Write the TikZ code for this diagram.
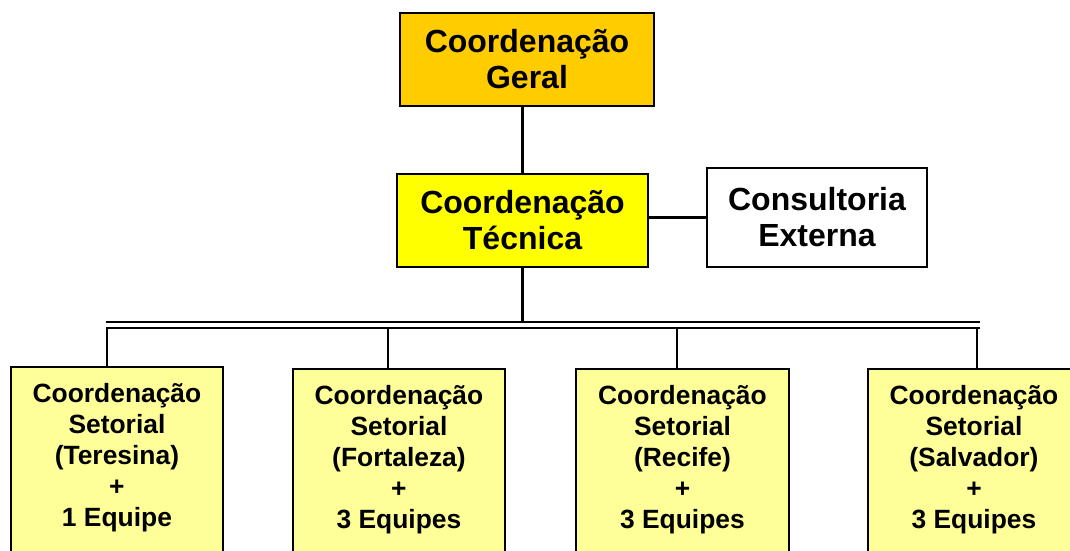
\documentclass[tikz,border=0pt]{standalone}
\usepackage{fontspec}
\setmainfont{Liberation Sans}
\definecolor{gold}{HTML}{FFCC00}
\definecolor{yel}{HTML}{FFFF00}
\definecolor{pale}{HTML}{FFFF99}
\begin{document}
\begin{tikzpicture}[x=1pt,y=-1pt,
  box/.style={draw=black, line width=1.9pt, align=center, inner sep=0pt,
    font=\bfseries\fontsize{32}{36}\selectfont},
  sbox/.style={draw=black, line width=1.9pt, inner sep=0pt, fill=pale, anchor=north west,
    font=\bfseries\fontsize{26.4}{31}\selectfont},
  conn/.style={line width=2.1pt},
  bus/.style={line width=2pt, double=white, double distance=3.4pt}]
\useasboundingbox (0,0) rectangle (1070,550);
\node[box, fill=gold, minimum width=254pt, minimum height=93pt] (ger) at (527,59.5) {Coordenação\\Geral};
\node[box, fill=yel, minimum width=251pt, minimum height=93pt] (tec) at (522.5,220.5) {Coordenação\\Técnica};
\node[box, fill=white, minimum width=220pt, minimum height=99pt] (cons) at (817,217.5) {Consultoria\\Externa};

\node[sbox] (s1) at (10,366) {\parbox[t][200pt][t]{212pt}{\centering\rule{0pt}{36pt}Coordenação\\Setorial\\(Teresina)\\+\\1 Equipe}};
\node[sbox] (s2) at (292,368) {\parbox[t][200pt][t]{212pt}{\centering\rule{0pt}{36pt}Coordenação\\Setorial\\(Fortaleza)\\+\\3 Equipes}};
\node[sbox] (s3) at (575,368) {\parbox[t][200pt][t]{213pt}{\centering\rule{0pt}{36pt}Coordenação\\Setorial\\(Recife)\\+\\3 Equipes}};
\node[sbox] (s4) at (867,368) {\parbox[t][200pt][t]{212pt}{\centering\rule{0pt}{36pt}Coordenação\\Setorial\\(Salvador)\\+\\3 Equipes}};

\coordinate (busL) at (106,325);
\coordinate (busR) at (980,325);
\coordinate (d1) at (107,325);
\coordinate (d2) at (388,325);
\coordinate (d3) at (677,325);
\coordinate (d4) at (977,325);

\draw[conn] (tec.north) -- (tec.north |- ger.south);
\draw[conn] (cons.west -| tec.east) -- (cons.west);
\draw[conn] (tec.south) -- (tec.south |- busL);
\draw[conn] (d1) -- (d1 |- s1.north);
\draw[conn] (d2) -- (d2 |- s2.north);
\draw[conn] (d3) -- (d3 |- s3.north);
\draw[conn] (d4) -- (d4 |- s4.north);
\draw[bus] (busL) -- (busR);
\end{tikzpicture}
\end{document}
